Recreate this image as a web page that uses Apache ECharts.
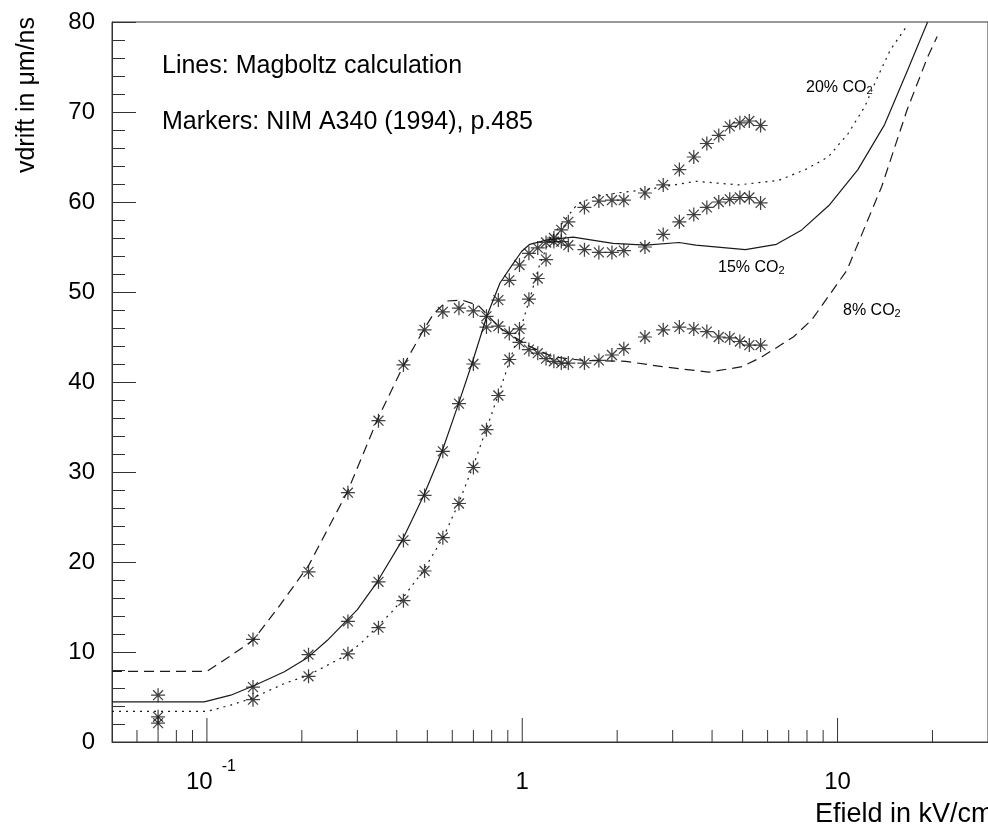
<!DOCTYPE html>
<html>
<head>
<meta charset="utf-8">
<title>vdrift vs Efield</title>
<script src="https://cdn.jsdelivr.net/npm/echarts@6/dist/echarts.min.js"></script>
<style>
	html, body {margin: 0; padding: 0; background: #fff;}
	#chartArea {width: 988px; height: 830px;}
</style>
</head>
<body>
<div id="chartArea"></div>
<script>
	// 测量点的电场值 (kV/cm), 三组数据共用
	const eField = [0.07, 0.14, 0.21, 0.28, 0.35, 0.42, 0.49, 0.56, 0.63, 0.70,
		0.77, 0.84, 0.91, 0.98, 1.05, 1.12, 1.19, 1.26, 1.33, 1.40,
		1.575, 1.75, 1.925, 2.1, 2.45, 2.8, 3.15, 3.5, 3.85, 4.2, 4.55, 4.9, 5.25, 5.7];

	// Markers: NIM A340 (1994)
	const data8 = [5.2, 11.4, 18.9, 27.7, 35.7, 41.9, 45.8, 47.8, 48.2, 47.9,
		46.1, 46.2, 45.4, 44.4, 43.6, 43.2, 42.6, 42.3, 42.1, 42.1,
		42.1, 42.4, 43.0, 43.7, 45.0, 45.8, 46.1, 45.9, 45.6, 45.0, 44.9, 44.5, 44.1, 44.1];
	const data15 = [2.8, 6.1, 9.7, 13.4, 17.8, 22.4, 27.4, 32.3, 37.6, 42.0,
		47.3, 49.1, 51.3, 53.0, 54.3, 54.9, 55.5, 55.6, 55.6, 55.2,
		54.7, 54.4, 54.4, 54.6, 55.0, 56.4, 57.8, 58.6, 59.4, 60.0, 60.3, 60.5, 60.5, 59.9];
	const data20 = [2.1, 4.7, 7.3, 9.8, 12.7, 15.7, 19.0, 22.7, 26.5, 30.5,
		34.7, 38.5, 42.5, 45.9, 49.2, 51.5, 53.6, 56.0, 56.9, 57.8,
		59.4, 60.1, 60.2, 60.2, 61.0, 61.9, 63.6, 65.0, 66.5, 67.4, 68.4, 68.8, 69.0, 68.5];

	// Lines: Magboltz calculation
	const calcE8 = [0.05, 0.1, 0.118, 0.14, 0.168, 0.21, 0.279, 0.347, 0.421, 0.487, 0.524, 0.577, 0.644, 0.726,
		0.85, 1.05, 1.25, 1.56, 2.13, 2.78, 3.9, 4.98, 5.76, 7.24, 8.28, 10.7, 13.8, 16.6, 19.3, 20.7];
	const calcV8 = [7.85, 7.85, 9.5, 11.3, 14.9, 19.6, 27.8, 35.8, 41.9, 45.8, 47.6, 49.0, 49.1, 48.5,
		46.0, 44.0, 42.8, 42.4, 42.3, 41.7, 41.1, 41.7, 42.8, 45.0, 46.9, 52.4, 61.7, 70.2, 76.1, 78.4];
	const calcE15 = [0.05, 0.098, 0.119, 0.142, 0.176, 0.209, 0.241, 0.3, 0.347, 0.416, 0.487, 0.557, 0.628, 0.692,
		0.772, 0.85, 0.925, 0.995, 1.056, 1.2, 1.45, 1.94, 2.47, 3.14, 3.55, 5.1, 6.4, 7.7, 9.44, 11.6, 14.1, 16.7, 19.3];
	const calcV15 = [4.45, 4.45, 5.2, 6.3, 7.8, 9.4, 11.3, 14.7, 17.8, 22.4, 27.4, 32.3, 37.6, 42.0,
		47.3, 51.0, 52.9, 54.5, 55.3, 55.8, 56.1, 55.4, 55.2, 55.5, 55.2, 54.7, 55.3, 56.9, 59.7, 63.6, 68.6, 74.7, 80.0];
	const calcE20 = [0.05, 0.1, 0.119, 0.14, 0.176, 0.209, 0.279, 0.315, 0.392, 0.487, 0.563, 0.628, 0.701, 0.772,
		0.84, 0.914, 1.0, 1.07, 1.13, 1.22, 1.35, 1.5, 1.7, 2.0, 2.5, 3.55, 4.86, 6.5, 7.9, 9.34, 10.8, 12.2, 13.4, 14.7, 16.7];
	const calcV20 = [3.4, 3.4, 4.1, 4.9, 6.5, 7.4, 9.7, 11.3, 14.7, 19.1, 22.8, 26.5, 30.8, 34.9,
		38.6, 42.4, 46.5, 49.9, 52.8, 55.8, 57.8, 59.8, 60.6, 61.0, 61.4, 62.3, 61.9, 62.4, 63.6, 65.0, 67.6, 70.6, 73.9, 76.9, 79.7];

	// x轴刻度 (对数轴)
	const xMajorTicks = [0.1, 1, 10];
	const xMinorTicks = [0.06, 0.07, 0.08, 0.09, 0.2, 0.3, 0.4, 0.5, 0.6, 0.7, 0.8, 0.9,
		2, 3, 4, 5, 6, 7, 8, 9, 20];

	const fontName = '"Liberation Sans", Arial, Helvetica, sans-serif';
	const lineColor = '#1a1a1a';

	// 星号标记
	const starPath = 'path://M-9,-0.8 L9,-0.8 L9,0.8 L-9,0.8 Z' +
		' M-0.8,-9 L0.8,-9 L0.8,9 L-0.8,9 Z' +
		' M-6.97,-5.83 L-5.83,-6.97 L6.97,5.83 L5.83,6.97 Z' +
		' M6.97,-5.83 L-5.83,6.97 L-6.97,5.83 L5.83,-6.97 Z' +
		' M-2,-2 L2,-2 L2,2 L-2,2 Z';

	const zipPairs = (xs, ys) => xs.map((x, i) => [x, ys[i]]);

	const isPow10 = (v, p) => Math.abs(Math.log10(v) - p) < 1e-6;

	const tickSeries = (vals, len) => ({
		type: 'custom',
		silent: true,
		clip: false,
		data: vals.map(v => [v, 0]),
		renderItem: function(params, api) {
			let p = api.coord([api.value(0), 0]);
			return {
				type: 'line',
				shape: {x1: p[0], y1: p[1], x2: p[0], y2: p[1] - len},
				style: {stroke: '#333', lineWidth: 1}
			};
		}
	});

	const lineSeries = (name, xs, ys, dash) => ({
		name: name,
		type: 'line',
		data: zipPairs(xs, ys),
		showSymbol: false,
		smooth: false,
		silent: true,
		lineStyle: {color: lineColor, width: 1.2, type: dash}
	});

	const markerSeries = (name, ys) => ({
		name: name,
		type: 'scatter',
		data: zipPairs(eField, ys),
		symbol: starPath,
		symbolSize: 14,
		silent: true,
		itemStyle: {color: '#111'}
	});

	const coLabel = (txt, x, y) => ({
		type: 'text',
		x: x,
		y: y,
		style: {
			text: txt + ' CO{sub|2}',
			fill: '#000',
			font: '16px ' + fontName,
			verticalAlign: 'top',
			rich: {
				sub: {fontSize: 11, fontFamily: fontName, lineHeight: 11, padding: [9, 0, 0, 0], verticalAlign: 'bottom'}
			}
		}
	});

	const myChart = echarts.init(document.getElementById('chartArea'));

	const chartOption = {
		backgroundColor: '#fff',
		animation: false,
		grid: {
			left: 112,
			top: 22,
			right: -5,
			bottom: 88,
			show: true,
			borderColor: '#333',
			borderWidth: 1
		},
		xAxis: {
			type: 'log',
			logBase: 10,
			min: 0.05,
			max: 30,
			axisLine: {show: true, lineStyle: {color: '#333', width: 1}},
			axisTick: {show: false},
			splitLine: {show: false},
			axisLabel: {
				margin: 28,
				showMinLabel: false,
				showMaxLabel: false,
				color: '#000',
				fontSize: 24,
				fontFamily: fontName,
				formatter: function(value) {
					if (isPow10(value, -1)) return '{p|10}{sup|-1}';
					if (isPow10(value, 0)) return '{b|1}';
					if (isPow10(value, 1)) return '{b|10}';
					return '';
				},
				rich: {
					b: {fontSize: 24, fontFamily: fontName, color: '#000', lineHeight: 24, verticalAlign: 'bottom'},
					p: {fontSize: 24, fontFamily: fontName, color: '#000', lineHeight: 24, padding: [0, 0, 0, 8], verticalAlign: 'bottom'},
					sup: {fontSize: 16, fontFamily: fontName, color: '#000', lineHeight: 16, padding: [0, 0, 19, 9], verticalAlign: 'bottom'}
				}
			}
		},
		yAxis: {
			type: 'value',
			min: 0,
			max: 80,
			interval: 10,
			axisLine: {show: true, lineStyle: {color: '#333', width: 1}},
			axisTick: {show: true, inside: true, length: 24, lineStyle: {color: '#333'}},
			minorTick: {show: true, splitNumber: 5, length: 13, lineStyle: {color: '#333'}},
			splitLine: {show: false},
			axisLabel: {
				margin: 17,
				color: '#000',
				fontSize: 24,
				fontFamily: fontName
			}
		},
		graphic: [
			{type: 'text', x: 162, y: 54, style: {text: 'Lines: Magboltz calculation', fill: '#000', font: '25px ' + fontName, verticalAlign: 'top'}},
			{type: 'text', x: 162, y: 110, style: {text: 'Markers: NIM A340 (1994), p.485', fill: '#000', font: '25px ' + fontName, verticalAlign: 'top'}},
			coLabel('20%', 806, 80),
			coLabel('15%', 718, 260),
			coLabel('8%', 843, 303),
			{type: 'text', x: 815, y: 801, style: {text: 'Efield in kV/cm', fill: '#000', font: '27px ' + fontName, verticalAlign: 'top'}},
			{type: 'text', x: 27, y: 17, rotation: Math.PI / 2, style: {text: 'vdrift in μm/ns', fill: '#000', font: '25px ' + fontName, align: 'right', verticalAlign: 'middle'}}
		],
		series: [
			tickSeries(xMajorTicks, 24),
			tickSeries(xMinorTicks, 12),
			lineSeries('8% CO2 calc', calcE8, calcV8, [10, 6]),
			lineSeries('15% CO2 calc', calcE15, calcV15, 'solid'),
			lineSeries('20% CO2 calc', calcE20, calcV20, [2, 5]),
			markerSeries('8% CO2', data8),
			markerSeries('15% CO2', data15),
			markerSeries('20% CO2', data20)
		]
	};

	myChart.setOption(chartOption);
</script>
</body>
</html>
